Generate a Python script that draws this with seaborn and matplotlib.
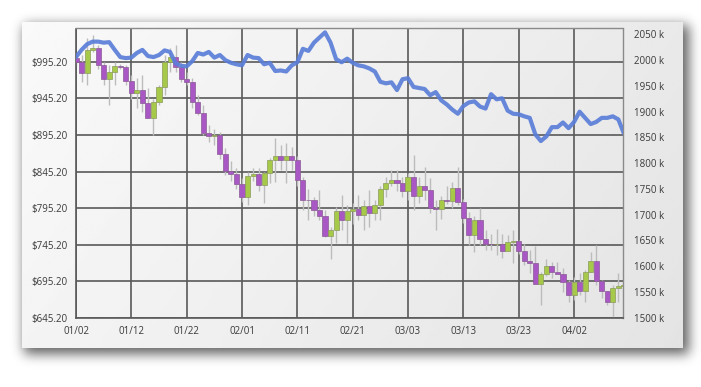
import numpy as np
import matplotlib
matplotlib.use("Agg")
import matplotlib.pyplot as plt
import seaborn as sns

sns.set_style("white")
plt.rcParams['font.family'] = ['Open Sans', 'DejaVu Sans']

# ---------------- data ----------------
days = list(range(100))
x_tick_days = [0, 10, 20, 30, 40, 50, 60, 70, 80, 90]
x_tick_labels = ['01/02', '01/12', '01/22', '02/01', '02/11', '02/21', '03/03', '03/13', '03/23', '04/02']
price_ticks = [645.2, 695.2, 745.2, 795.2, 845.2, 895.2, 945.2, 995.2]
volume_ticks = [1500, 1550, 1600, 1650, 1700, 1750, 1800, 1850, 1900, 1950, 2000, 2050]

open_ = [1001.0, 995.6, 979.8, 1011.6, 1013.9, 991.1, 971.5, 981.1, 990.2, 988.8,
         969.2, 952.4, 957.0, 938.8, 918.3, 941.0, 961.5, 994.8, 1002.0, 988.8,
         971.5, 968.3, 941.0, 926.0, 898.6, 894.1, 895.5, 869.1, 845.3, 841.8,
         828.5, 809.9, 839.5, 841.8, 827.2, 843.1, 861.3, 866.8, 861.3, 866.8,
         861.3, 834.0, 806.7, 806.0, 793.0, 784.8, 756.5, 765.7, 790.7, 779.4,
         790.7, 794.0, 786.2, 798.5, 788.5, 799.9, 821.3, 829.5, 833.1, 829.5,
         818.0, 837.7, 812.2, 825.8, 819.4, 795.3, 794.0, 806.7, 805.0, 822.6,
         803.5, 781.7, 758.9, 779.4, 753.4, 746.6, 745.5, 746.6, 737.0, 749.0,
         749.7, 736.0, 722.4, 720.5, 691.9, 705.2, 716.5, 707.4, 705.2, 694.0,
         676.0, 694.0, 682.4, 707.4, 722.4, 696.0, 682.4, 667.0, 686.0, 688.0]
close = [995.6, 979.8, 1011.6, 1013.9, 991.1, 971.5, 981.1, 990.2, 988.8, 969.2,
         952.4, 957.0, 938.8, 918.3, 941.0, 961.5, 994.8, 1002.0, 988.8, 971.5,
         968.3, 941.0, 926.0, 898.6, 894.1, 895.5, 869.1, 845.3, 841.8, 828.5,
         809.9, 839.5, 841.8, 827.2, 843.1, 861.3, 866.8, 861.3, 866.8, 861.3,
         834.0, 806.7, 806.0, 793.0, 784.8, 756.5, 765.7, 790.7, 779.4, 790.7,
         794.0, 786.2, 798.5, 788.5, 799.9, 821.3, 829.5, 833.1, 829.5, 818.0,
         837.7, 812.2, 825.8, 819.4, 795.3, 794.0, 806.7, 805.0, 822.6, 803.5,
         781.7, 758.9, 779.4, 753.4, 746.6, 745.5, 746.6, 737.0, 749.0, 749.7,
         736.0, 722.4, 720.5, 691.9, 705.2, 716.5, 707.4, 705.2, 694.0, 676.0,
         694.0, 682.4, 707.4, 722.4, 696.0, 682.4, 667.0, 686.0, 688.0, 689.5]
high = [1006, 1005, 1028, 1032, 1018, 995, 991, 995, 993, 991,
        977, 973, 977, 959, 945, 963, 1005, 1014, 1018, 995,
        982, 973, 950, 936, 909, 904, 900, 877, 859, 850,
        836, 845, 850, 850, 845, 864, 891, 882, 884, 879,
        866, 838, 822, 811, 820, 793, 770, 797, 813, 799,
        802, 813, 806, 820, 806, 825, 838, 847, 847, 838,
        843, 868, 838, 852, 836, 806, 812, 825, 831, 852,
        808, 790, 785, 795, 765, 760, 767, 760, 758, 765,
        752, 746, 738, 744, 708, 726, 722, 722, 713, 697,
        701, 706, 710, 735, 745, 697, 682, 690, 707, 700]
low = [990, 968, 964, 1009, 986, 964, 936, 964, 986, 964,
       945, 932, 927, 918, 895, 936, 950, 982, 982, 968,
       963, 932, 922, 895, 886, 881, 863, 840, 832, 822,
       804, 799, 832, 818, 802, 829, 831, 847, 829, 847,
       825, 793, 779, 784, 779, 756, 726, 747, 765, 747,
       774, 779, 765, 770, 779, 779, 811, 825, 818, 811,
       806, 793, 802, 806, 788, 765, 780, 801, 795, 800,
       775, 745, 735, 745, 738, 738, 731, 727, 736, 720,
       733, 718, 707, 697, 663, 702, 699, 706, 681, 667,
       670, 676, 667, 708, 690, 672, 663, 645, 667, 681]
volume_k = [2006, 2020, 2031, 2036, 2036, 2034, 2035, 2020, 2006, 2004,
            2005, 2014, 2020, 2008, 2006, 2010, 2019, 2016, 1994, 1989,
            1988, 1998, 2014, 2011, 2016, 2005, 2010, 2000, 1995, 1992,
            1990, 2010, 2005, 2004, 1992, 1995, 1979, 1980, 1978, 1990,
            1996, 2022, 2018, 2034, 2044, 2054, 2034, 2002, 1996, 2003,
            1995, 1990, 1988, 1984, 1978, 1958, 1955, 1957, 1942, 1963,
            1965, 1948, 1946, 1944, 1932, 1938, 1922, 1914, 1904, 1896,
            1911, 1918, 1920, 1910, 1906, 1934, 1924, 1926, 1902, 1896,
            1895, 1891, 1888, 1856, 1843, 1852, 1870, 1870, 1879, 1868,
            1880, 1900, 1888, 1876, 1880, 1888, 1888, 1891, 1885, 1858]

# ---------------- figure ----------------
W, H = 701, 387
fig = plt.figure(figsize=(W / 100, H / 100), dpi=100)
fig.patch.set_facecolor('white')

bg = fig.add_axes([0, 0, 1, 1])
bg.set_xlim(0, W)
bg.set_ylim(H, 0)
bg.axis('off')

px0, py0, px1, py1 = 22, 22, 683, 348

# soft blurred drop shadow (offset to the lower right)
mask = np.zeros((H, W))
mask[py0 + 3:py1 + 6, px0 + 2:px1 + 6] = 1.0
k = np.arange(-18, 19)
g = np.exp(-0.5 * (k / 6.0) ** 2)
g /= g.sum()
blur = np.apply_along_axis(lambda r: np.convolve(r, g, mode='same'), 1, mask)
blur = np.apply_along_axis(lambda c: np.convolve(c, g, mode='same'), 0, blur)
shadow = np.zeros((H, W, 4))
shadow[..., 3] = 0.62 * blur
bg.imshow(shadow, extent=(0, W, H, 0), aspect='auto', zorder=0, interpolation='bilinear')

# gradient panel
gx = np.linspace(0, 1, 256)
gy = np.linspace(0, 1, 64)
GX, GY = np.meshgrid(gx, gy)
val = 0.978 - 0.085 * (0.75 * GX + 0.25 * GY)
bg.imshow(val, cmap='gray', vmin=0, vmax=1, extent=(px0, px1, py1, py0),
          aspect='auto', zorder=1, interpolation='bilinear')

# main axes
L, R, T, B = 76, 623.3, 28.5, 317.7
ax = fig.add_axes([L / W, (H - B) / H, (R - L) / W, (B - T) / H])
ax.patch.set_alpha(0)

up = [c >= o for o, c in zip(open_, close)]
body_colors = ['#a7c94a' if u else '#a957c4' for u in up]
edge_colors = ['#8a9a5a' if u else '#8a5a95' for u in up]

ax.vlines(days, low, high, color='#bcbcbc', lw=1.0, zorder=2)
ax.bar(days, [c - o for o, c in zip(open_, close)], bottom=open_, width=0.92,
       color=body_colors, edgecolor=edge_colors, linewidth=0.5, zorder=3)

ax.set_xlim(0, 98.9)
ax.set_ylim(645.2, 1041)
ax.set_xticks(x_tick_days)
ax.set_xticklabels(x_tick_labels)
ax.set_yticks(price_ticks)
ax.set_yticklabels(['${:.2f}'.format(v) for v in price_ticks])
for xv in x_tick_days:
    ax.axvline(xv, color='#595959', lw=1.2, zorder=1)
for yv in price_ticks:
    ax.axhline(yv, color='#595959', lw=1.2, zorder=1)
for s in ['left', 'bottom']:
    ax.spines[s].set_color('#595959')
    ax.spines[s].set_linewidth(1.2)
for s in ['top', 'right']:
    ax.spines[s].set_color('#8a8a8a')
    ax.spines[s].set_linewidth(1.0)
ax.tick_params(axis='both', length=0, labelsize=7, colors='#3a3a3a')
ax.tick_params(axis='y', pad=6)
ax.tick_params(axis='x', pad=6)

ax2 = ax.twinx()
sns.lineplot(x=days, y=volume_k, ax=ax2, color='#5b7fd8', lw=3.0, alpha=0.92, zorder=5)
ax2.set_ylim(1500, 2061.5)
ax2.set_yticks(volume_ticks)
ax2.set_yticklabels(['{} k'.format(v) for v in volume_ticks])
ax2.set_ylabel('')
ax2.tick_params(axis='y', length=0, labelsize=7, colors='#3a3a3a', pad=8)
for s in ax2.spines.values():
    s.set_visible(False)
ax2.patch.set_alpha(0)

fig.savefig('out.png', dpi=100, facecolor='white')
